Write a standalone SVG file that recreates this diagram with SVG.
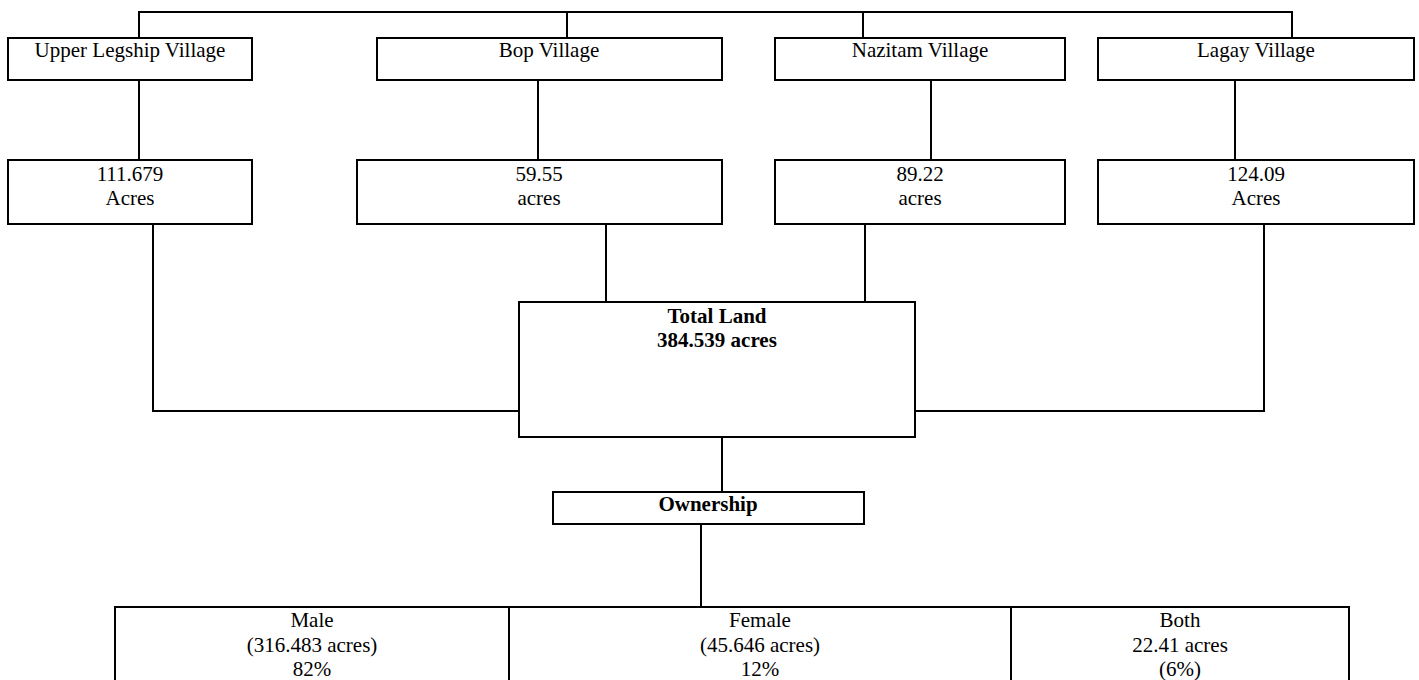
<svg xmlns="http://www.w3.org/2000/svg" width="1419" height="680" viewBox="0 0 1419 680">
<style>
.box{fill:#fff;stroke:#000;stroke-width:2}
.ln{fill:none;stroke:#000;stroke-width:2}
text{font-family:"Liberation Serif","Times New Roman",serif;font-size:21px;fill:#000;text-anchor:middle}
.b{font-weight:bold}
</style>
<rect width="1419" height="680" fill="#fff"/>
<g id="connectors">
<polyline class="ln" points="139,38 139,12 1292,12 1292,38"/>
<line class="ln" x1="567" y1="12" x2="567" y2="38"/>
<line class="ln" x1="863" y1="12" x2="863" y2="38"/>
<line class="ln" x1="139" y1="80" x2="139" y2="160"/>
<line class="ln" x1="538" y1="80" x2="538" y2="160"/>
<line class="ln" x1="931" y1="80" x2="931" y2="160"/>
<line class="ln" x1="1235" y1="80" x2="1235" y2="160"/>
<polyline class="ln" points="153,224 153,411 519,411"/>
<polyline class="ln" points="1264,224 1264,411 915,411"/>
<line class="ln" x1="606" y1="224" x2="606" y2="302"/>
<line class="ln" x1="865" y1="224" x2="865" y2="302"/>
<line class="ln" x1="722" y1="437" x2="722" y2="492"/>
<line class="ln" x1="701" y1="524" x2="701" y2="607"/>
</g>
<g id="n-upper-legship">
<rect class="box" x="8" y="38" width="244" height="42"/>
<text x="130" y="57">Upper Legship Village</text>
</g>
<g id="n-bop">
<rect class="box" x="377" y="38" width="345" height="42"/>
<text x="549" y="57">Bop Village</text>
</g>
<g id="n-nazitam">
<rect class="box" x="775" y="38" width="290" height="42"/>
<text x="920" y="57">Nazitam Village</text>
</g>
<g id="n-lagay">
<rect class="box" x="1098" y="38" width="316" height="42"/>
<text x="1256" y="57">Lagay Village</text>
</g>
<g id="n-upper-acres">
<rect class="box" x="8" y="160" width="244" height="64"/>
<text x="130" y="181">111.679</text>
<text x="130" y="205">Acres</text>
</g>
<g id="n-bop-acres">
<rect class="box" x="357" y="160" width="365" height="64"/>
<text x="539" y="181">59.55</text>
<text x="539" y="205">acres</text>
</g>
<g id="n-nazitam-acres">
<rect class="box" x="775" y="160" width="290" height="64"/>
<text x="920" y="181">89.22</text>
<text x="920" y="205">acres</text>
</g>
<g id="n-lagay-acres">
<rect class="box" x="1098" y="160" width="316" height="64"/>
<text x="1256" y="181">124.09</text>
<text x="1256" y="205">Acres</text>
</g>
<g id="n-total">
<rect class="box" x="519" y="302" width="396" height="135"/>
<text class="b" x="717" y="323">Total Land</text>
<text class="b" x="717" y="347">384.539 acres</text>
</g>
<g id="n-ownership">
<rect class="box" x="553" y="492" width="311" height="32"/>
<text class="b" x="708" y="511">Ownership</text>
</g>
<g id="n-male">
<rect class="box" x="115" y="607" width="394" height="100"/>
<text x="312" y="627">Male</text>
<text x="312" y="652">(316.483 acres)</text>
<text x="312" y="676">82%</text>
</g>
<g id="n-female">
<rect class="box" x="509" y="607" width="502" height="100"/>
<text x="760" y="627">Female</text>
<text x="760" y="652">(45.646 acres)</text>
<text x="760" y="676">12%</text>
</g>
<g id="n-both">
<rect class="box" x="1011" y="607" width="338" height="100"/>
<text x="1180" y="627">Both</text>
<text x="1180" y="652">22.41 acres</text>
<text x="1180" y="676">(6%)</text>
</g>
</svg>
